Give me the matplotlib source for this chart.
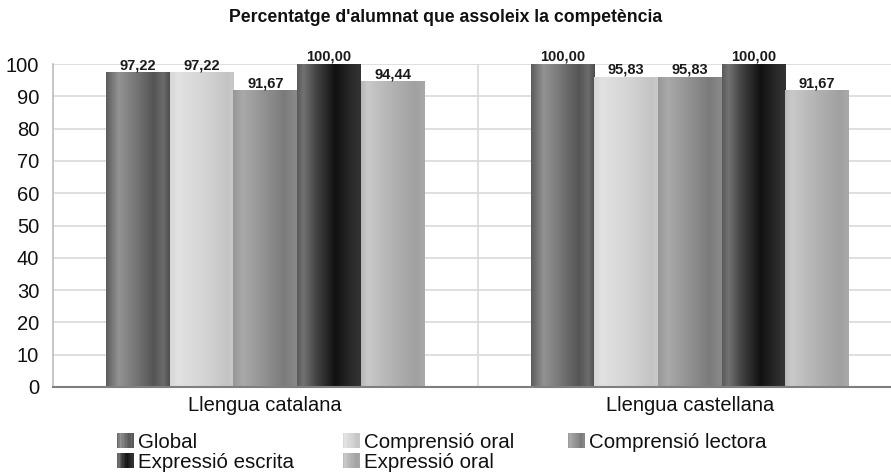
import numpy as np
import matplotlib
matplotlib.use("Agg")
import matplotlib.pyplot as plt
from matplotlib.colors import LinearSegmentedColormap
from matplotlib.patches import Patch, Rectangle
from matplotlib.legend_handler import HandlerBase

plt.rcParams['font.family'] = ['Liberation Sans', 'DejaVu Sans']

categories = ["Llengua catalana", "Llengua castellana"]
series = ["Global", "Comprensió oral", "Comprensió lectora", "Expressió escrita", "Expressió oral"]
values = {
    "Global": [97.22, 100.00],
    "Comprensió oral": [97.22, 95.83],
    "Comprensió lectora": [91.67, 95.83],
    "Expressió escrita": [100.00, 100.00],
    "Expressió oral": [94.44, 91.67],
}
yticks = [0, 10, 20, 30, 40, 50, 60, 70, 80, 90, 100]
title = "Percentatge d'alumnat que assoleix la competència"

# gradient profiles across the width of each bar (cylindrical look)
gradients = {
    "Global": [(0, "#5c5c5c"), (0.2, "#939393"), (0.5, "#727272"), (0.75, "#555555"), (0.9, "#6c6c6c"), (1, "#4e4e4e")],
    "Comprensió oral": [(0, "#d6d6d6"), (0.12, "#e2e2e2"), (0.6, "#d2d2d2"), (0.9, "#c4c4c4"), (1, "#c9c9c9")],
    "Comprensió lectora": [(0, "#979797"), (0.15, "#a9a9a9"), (0.5, "#919191"), (0.8, "#7b7b7b"), (1, "#8a8a8a")],
    "Expressió escrita": [(0, "#5a5a5a"), (0.1, "#727272"), (0.3, "#444444"), (0.6, "#111111"), (0.85, "#2a2a2a"), (1, "#343434")],
    "Expressió oral": [(0, "#b6b6b6"), (0.1, "#c9c9c9"), (0.5, "#b2b2b2"), (0.85, "#a1a1a1"), (1, "#a9a9a9")],
}
cmaps = {s: LinearSegmentedColormap.from_list(s, gradients[s]) for s in series}


class GradientHandler(HandlerBase):
    def create_artists(self, legend, orig_handle, xdescent, ydescent, width, height, fontsize, trans):
        cmap = cmaps[orig_handle.get_label()]
        n = 12
        arts = []
        for k in range(n):
            r = Rectangle((-xdescent + width * k / n, -ydescent), width / n + 0.3, height,
                          facecolor=cmap((k + 0.5) / n), edgecolor="none", transform=trans)
            arts.append(r)
        return arts


W, H = 891, 475
fig = plt.figure(figsize=(W / 100, H / 100), dpi=100)
ax = fig.add_axes([53 / W, 1 - 387 / H, 1 - 53 / W, (387 - 64) / H])

x = np.arange(len(categories))
w = 0.15
grad = np.linspace(0, 1, 256).reshape(1, -1)
for i, s in enumerate(series):
    offs = (i - 2) * w
    bars = ax.bar(x + offs, values[s], width=w, color="none", edgecolor="none", zorder=3)
    for b, v in zip(bars, values[s]):
        x0, y0 = b.get_x(), b.get_y()
        ax.imshow(grad, cmap=cmaps[s], aspect="auto", extent=(x0, x0 + b.get_width(), y0, y0 + b.get_height()),
                  zorder=3, interpolation="bilinear")
        ax.text(x0 + b.get_width() / 2, v + 0.2, f"{v:.2f}".replace(".", ","), ha="center", va="bottom",
                fontsize=10.5, fontweight="bold", color="#1a1a1a", zorder=4, clip_on=False)

ax.set_xlim(-0.5, (891 - 266) / 424)
ax.set_ylim(0, 100)
ax.set_yticks(yticks)
ax.set_yticklabels([str(t) for t in yticks], fontsize=14.5)
ax.set_xticks(x)
ax.set_xticklabels(categories, fontsize=14.5)
ax.tick_params(axis="both", length=0, colors="#111111")
ax.tick_params(axis="y", pad=10)
ax.tick_params(axis="x", pad=6.5)
ax.yaxis.grid(True, color="#d9d9d9", linewidth=1.2, zorder=0)
ax.axvline(0.5, color="#d9d9d9", linewidth=1.2, zorder=0)
for sp in ["top", "right"]:
    ax.spines[sp].set_visible(False)
ax.spines["left"].set_color("#bdbdbd")
ax.spines["left"].set_linewidth(1.2)
ax.spines["bottom"].set_color("#7f7f7f")
ax.spines["bottom"].set_linewidth(1.5)
ax.spines["left"].set_zorder(5)
ax.spines["bottom"].set_zorder(5)

fig.text(446 / W, 1 - 17 / H, title, ha="center", va="center", fontsize=12.7, fontweight="bold", color="#111111")

cols = [["Global", "Expressió escrita"], ["Comprensió oral", "Expressió oral"], ["Comprensió lectora"]]
col_x = [117, 343, 568]
for cx, names in zip(col_x, cols):
    handles = [Patch(facecolor="gray", edgecolor="none", label=n) for n in names]
    leg = fig.legend(handles=handles, loc="upper left", bbox_to_anchor=(cx / W, 1 - 433 / H),
                     frameon=False, fontsize=14.8, handlelength=0.8, handleheight=0.75,
                     handletextpad=0.2, labelspacing=0.05, borderpad=0, borderaxespad=0,
                     handler_map={Patch: GradientHandler()})
    for t in leg.get_texts():
        t.set_color("#111111")

fig.savefig("out.png", dpi=100)
